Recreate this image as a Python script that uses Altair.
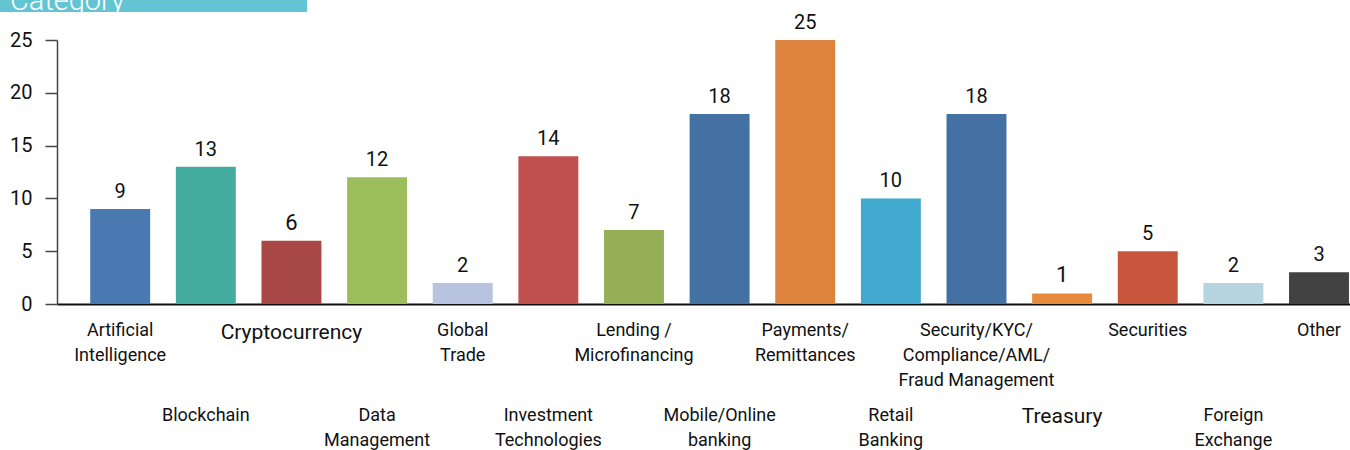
import altair as alt
import pandas as pd

categories = [
    "Artificial Intelligence", "Blockchain", "Cryptocurrency", "Data Management",
    "Global Trade", "Investment Technologies", "Lending / Microfinancing",
    "Mobile/Online banking", "Payments/Remittances", "Retail Banking",
    "Security/KYC/Compliance/AML/Fraud Management", "Treasury", "Securities",
    "Foreign Exchange", "Other",
]
tick_labels = [
    "Artificial\nIntelligence", "Blockchain", "Cryptocurrency", "Data\nManagement",
    "Global\nTrade", "Investment\nTechnologies", "Lending /\nMicrofinancing",
    "Mobile/Online\nbanking", "Payments/\nRemittances", "Retail\nBanking",
    "Security/KYC/\nCompliance/AML/\nFraud Management", "Treasury", "Securities",
    "Foreign\nExchange", "Other",
]
values = [9, 13, 6, 12, 2, 14, 7, 18, 25, 10, 18, 1, 5, 2, 3]
bar_colors = [
    "#4A78B0", "#43AC9F", "#A84846", "#9CBD5B", "#B7C3DF", "#C05150", "#94AF55",
    "#4371A4", "#DD833E", "#41A8CE", "#4371A4", "#E68B3D", "#C8563D", "#B7D5E0",
    "#424242",
]
big_labels = ["Cryptocurrency", "Treasury"]

df = pd.DataFrame({"category": categories, "label": tick_labels, "value": values})
df["row"] = [i % 2 for i in range(len(df))]

FONT = "Roboto"

x_enc = alt.X(
    "category:N",
    sort=categories,
    scale=alt.Scale(paddingInner=0.3, paddingOuter=0.2, align=0.97),
    axis=alt.Axis(labels=False, ticks=False, title=None, domainColor="#111",
                  domainWidth=2),
)

base = alt.Chart(df)

bars = base.mark_bar().encode(
    x=x_enc,
    y=alt.Y(
        "value:Q",
        scale=alt.Scale(domain=[0, 25], nice=False),
        axis=alt.Axis(values=[0, 5, 10, 15, 20, 25], title=None, grid=False,
                      tickSize=12, tickColor="#444", tickWidth=1.5,
                      domainColor="#444", domainWidth=1.5,
                      labelFont=FONT, labelFontSize=20, labelColor="#111",
                      labelPadding=13),
    ),
    color=alt.Color("category:N", scale=alt.Scale(domain=categories, range=bar_colors),
                    legend=None),
)

is_big = alt.FieldOneOfPredicate(field="category", oneOf=big_labels)

value_text = base.mark_text(baseline="alphabetic", dy=-11, font=FONT, color="#111").encode(
    x=alt.X("category:N", sort=categories),
    y=alt.Y("value:Q"),
    text=alt.Text("value:Q"),
    size=alt.condition(is_big, alt.value(22), alt.value(20)),
)


def label_layer(row, big, ypix):
    pred = alt.FieldOneOfPredicate(field="category", oneOf=big_labels)
    ch = base.transform_filter(alt.datum.row == row)
    ch = ch.transform_filter(pred if big else ~pred)
    return ch.mark_text(
        baseline="alphabetic", align="center", font=FONT, color="#111",
        fontSize=21 if big else 18, lineBreak="\n", lineHeight=25,
    ).encode(
        x=alt.X("category:N", sort=categories),
        y=alt.value(ypix),
        text="label:N",
    )


labels = (label_layer(0, False, 296) + label_layer(0, True, 299)
          + label_layer(1, False, 381) + label_layer(1, True, 383))

header_rect = alt.Chart(pd.DataFrame({"t": ["Category"]})).mark_rect(color="#63C5D3").encode(
    x=alt.value(-57), x2=alt.value(250), y=alt.value(-40), y2=alt.value(-28)
)
header_text = alt.Chart(pd.DataFrame({"t": ["Category"]})).mark_text(
    align="left", baseline="alphabetic", font=FONT, fontSize=29, fontWeight=300,
    color="white",
).encode(x=alt.value(-47), y=alt.value(-30), text="t:N")

chart = alt.layer(bars, value_text, labels, header_rect, header_text).properties(
    width=1293,
    height=264,
    autosize=alt.AutoSizeParams(type="none"),
    padding={"left": 57, "top": 40, "right": 0, "bottom": 146},
).configure_view(stroke=None)

chart.save("out.html", embed_options={"renderer": "svg", "actions": False})
